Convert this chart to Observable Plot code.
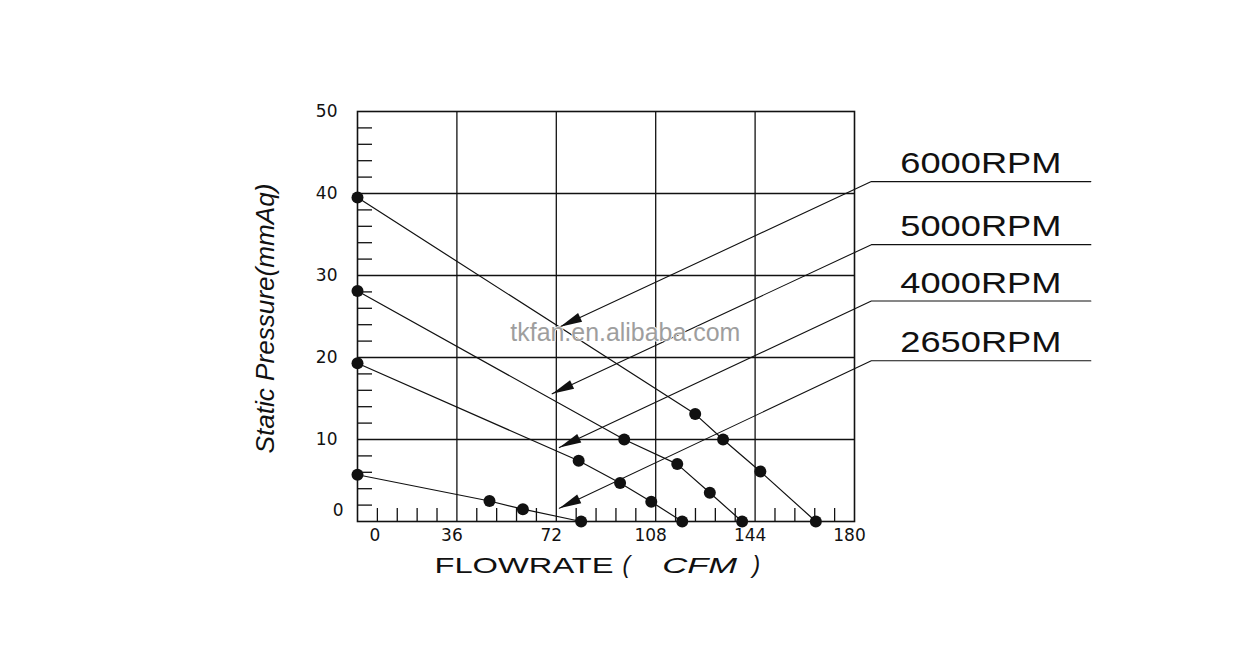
<!DOCTYPE html>
<html><head><meta charset="utf-8">
<script src="https://cdn.jsdelivr.net/npm/d3@7"></script>
<script src="https://cdn.jsdelivr.net/npm/@observablehq/plot@0.6"></script>
<style>html,body{margin:0;padding:0;background:#fff;} svg{display:block;}</style>
</head><body><div id="chart"></div>
<script>
// ---- data ----
const seriesNames = ["6000RPM", "5000RPM", "4000RPM", "2650RPM"];
const flow6000 = [0, 122.3, 132.4, 145.9, 166.0];
const press6000 = [39.5, 13.1, 10.0, 6.1, 0];
const flow5000 = [0, 96.6, 115.8, 127.6, 139.3];
const press5000 = [28.1, 10.0, 7.0, 3.5, 0];
const flow4000 = [0, 80.1, 95.1, 106.4, 117.6];
const press4000 = [19.3, 7.4, 4.7, 2.4, 0];
const flow2650 = [0, 47.8, 59.9, 81.0];
const press2650 = [5.7, 2.5, 1.5, 0];

const xTickValues = [0, 36, 72, 108, 144, 180];
const xTickLabels = ["0", "36", "72", "108", "144", "180"];
const yTickValues = [0, 10, 20, 30, 40, 50];
const yTickLabels = ["0", "10", "20", "30", "40", "50"];
const xMinorTicks = [7.2, 14.4, 21.6, 28.8, 43.2, 50.4, 57.6, 64.8, 79.2, 86.4, 93.6, 100.8, 115.2, 122.4, 129.6, 136.8, 151.2, 158.4, 165.6, 172.8];
const yMinorTicks = [2, 4, 6, 8, 12, 14, 16, 18, 22, 24, 26, 28, 32, 34, 36, 38, 42, 44, 46, 48];

// leader-line annotations (data units)
const leaderTipX = [73.4, 70.5, 73.1, 73.1];
const leaderTipY = [23.75, 15.57, 9.01, 1.62];
const leaderElbowX = 186.1;
const leaderEndX = 265.6;
const leaderY = [41.45, 33.76, 26.89, 19.6];

const watermark = "tkfan.en.alibaba.com";
const watermarkX = 97;
const watermarkY = 23.0;

// ---- layout ----
const W = 1250, H = 660, mL = 357, mR = 396, mT = 111, mB = 139;
const plotW = W - mL - mR, plotH = H - mT - mB;
const kx = plotW / 180, ky = plotH / 50;

const flows = [flow6000, flow5000, flow4000, flow2650];
const presses = [press6000, press5000, press4000, press2650];
const curves = [];
seriesNames.forEach((s, i) => flows[i].forEach((f, j) => curves.push({series: s, x: f, y: presses[i][j]})));

const leaders = [];
const heads = [];
seriesNames.forEach((s, i) => {
  leaders.push({series: s, x: leaderTipX[i], y: leaderTipY[i]});
  leaders.push({series: s, x: leaderElbowX, y: leaderY[i]});
  leaders.push({series: s, x: leaderEndX, y: leaderY[i]});
  const dxp = (leaderTipX[i] - leaderElbowX) * kx;
  const dyp = -(leaderTipY[i] - leaderY[i]) * ky;
  heads.push({x: leaderTipX[i], y: leaderTipY[i], angle: Math.atan2(dyp, dxp) * 180 / Math.PI});
});
const labelRows = seriesNames.map((s, i) => ({text: s, x: leaderElbowX, y: leaderY[i]}));

const arrowSymbol = {
  draw(ctx) {
    ctx.moveTo(0, 0);
    ctx.lineTo(-22, -4.8);
    ctx.lineTo(-22, 4.8);
    ctx.closePath();
  }
};

const ink = "#111";
const tickFont = "DejaVu Sans, sans-serif";

const chart = Plot.plot({
  width: W, height: H,
  marginLeft: mL, marginRight: mR, marginTop: mT, marginBottom: mB,
  x: {domain: [0, 180], axis: null},
  y: {domain: [0, 50], axis: null},
  style: {fontFamily: "Liberation Sans, Arial, sans-serif", background: "white", overflow: "visible"},
  marks: [
    Plot.ruleX(xTickValues.slice(1, -1), {stroke: ink, strokeWidth: 1.3}),
    Plot.ruleY(yTickValues.slice(1, -1), {stroke: ink, strokeWidth: 1.3}),
    Plot.tickX(xMinorTicks, {insetTop: plotH - 13, stroke: ink, strokeWidth: 1.3}),
    Plot.tickY(yMinorTicks, {insetRight: plotW - 15, stroke: ink, strokeWidth: 1.3}),
    Plot.frame({stroke: ink, strokeWidth: 1.6}),
    Plot.line(curves, {x: "x", y: "y", z: "series", stroke: ink, strokeWidth: 1.2}),
    Plot.dot(curves, {x: "x", y: "y", r: 6, fill: ink, stroke: "none"}),
    Plot.line(leaders, {x: "x", y: "y", z: "series", stroke: ink, strokeWidth: 1.1}),
    Plot.dot(heads, {x: "x", y: "y", symbol: arrowSymbol, rotate: "angle", fill: ink, stroke: "none", r: 5}),
    Plot.text(labelRows, {x: "x", y: "y", text: "text", dx: 29, dy: -8.5, textAnchor: "start", lineAnchor: "bottom", fontSize: 30, fill: ink}),
    // tick labels
    Plot.text(xTickValues.slice(1), {x: d => d, text: (d, i) => xTickLabels[i + 1], frameAnchor: "bottom", dy: 19.5, dx: -5, fontFamily: tickFont, fontSize: 17, fill: ink}),
    Plot.text([xTickLabels[0]], {frameAnchor: "bottom-left", dx: 12, dy: 19.5, fontFamily: tickFont, fontSize: 17, fill: ink}),
    Plot.text(yTickValues.slice(1), {y: d => d, text: (d, i) => yTickLabels[i + 1], frameAnchor: "left", dx: -20, textAnchor: "end", fontFamily: tickFont, fontSize: 17, fill: ink}),
    Plot.text([yTickLabels[0]], {frameAnchor: "bottom-left", dx: -14, dy: -6, textAnchor: "end", fontFamily: tickFont, fontSize: 17, fill: ink}),
    // axis titles
    Plot.text(["FLOWRATE"], {frameAnchor: "bottom-left", dx: 77, dy: 51.7, textAnchor: "start", lineAnchor: "bottom", fontSize: 22, fill: ink}),
    Plot.text(["("], {frameAnchor: "bottom-left", dx: 265, dy: 51.7, textAnchor: "start", lineAnchor: "bottom", fontSize: 23, fontStyle: "italic", fill: ink}),
    Plot.text(["CFM"], {frameAnchor: "bottom-left", dx: 304.7, dy: 51.7, textAnchor: "start", lineAnchor: "bottom", fontSize: 22, fontStyle: "italic", fill: ink}),
    Plot.text([")"], {frameAnchor: "bottom-left", dx: 395, dy: 51.7, textAnchor: "start", lineAnchor: "bottom", fontSize: 23, fontStyle: "italic", fill: ink}),
    Plot.text(["Static Pressure(mmAq)"], {frameAnchor: "left", rotate: -90, dx: -84, dy: 2, textAnchor: "middle", lineAnchor: "bottom", fontSize: 26, fontStyle: "italic", fill: ink}),
    // watermark
    Plot.text([watermark], {x: () => watermarkX, y: () => watermarkY, fontSize: 25, fill: "#9e9e9e", stroke: "white", strokeWidth: 1.5, paintOrder: "stroke"})
  ]
});

document.getElementById("chart").appendChild(chart);

// horizontal stretch of the wide lettering seen in the reference
const stretch = {"6000RPM": 161, "5000RPM": 161, "4000RPM": 161, "2650RPM": 161,
  "FLOWRATE": 179, "CFM": 75, "tkfan.en.alibaba.com": 230, "Static Pressure(mmAq)": 270};
chart.querySelectorAll("text").forEach(t => {
  const L = stretch[t.textContent];
  if (L) { t.setAttribute("textLength", L); t.setAttribute("lengthAdjust", "spacingAndGlyphs"); }
});
</script>
</body></html>
